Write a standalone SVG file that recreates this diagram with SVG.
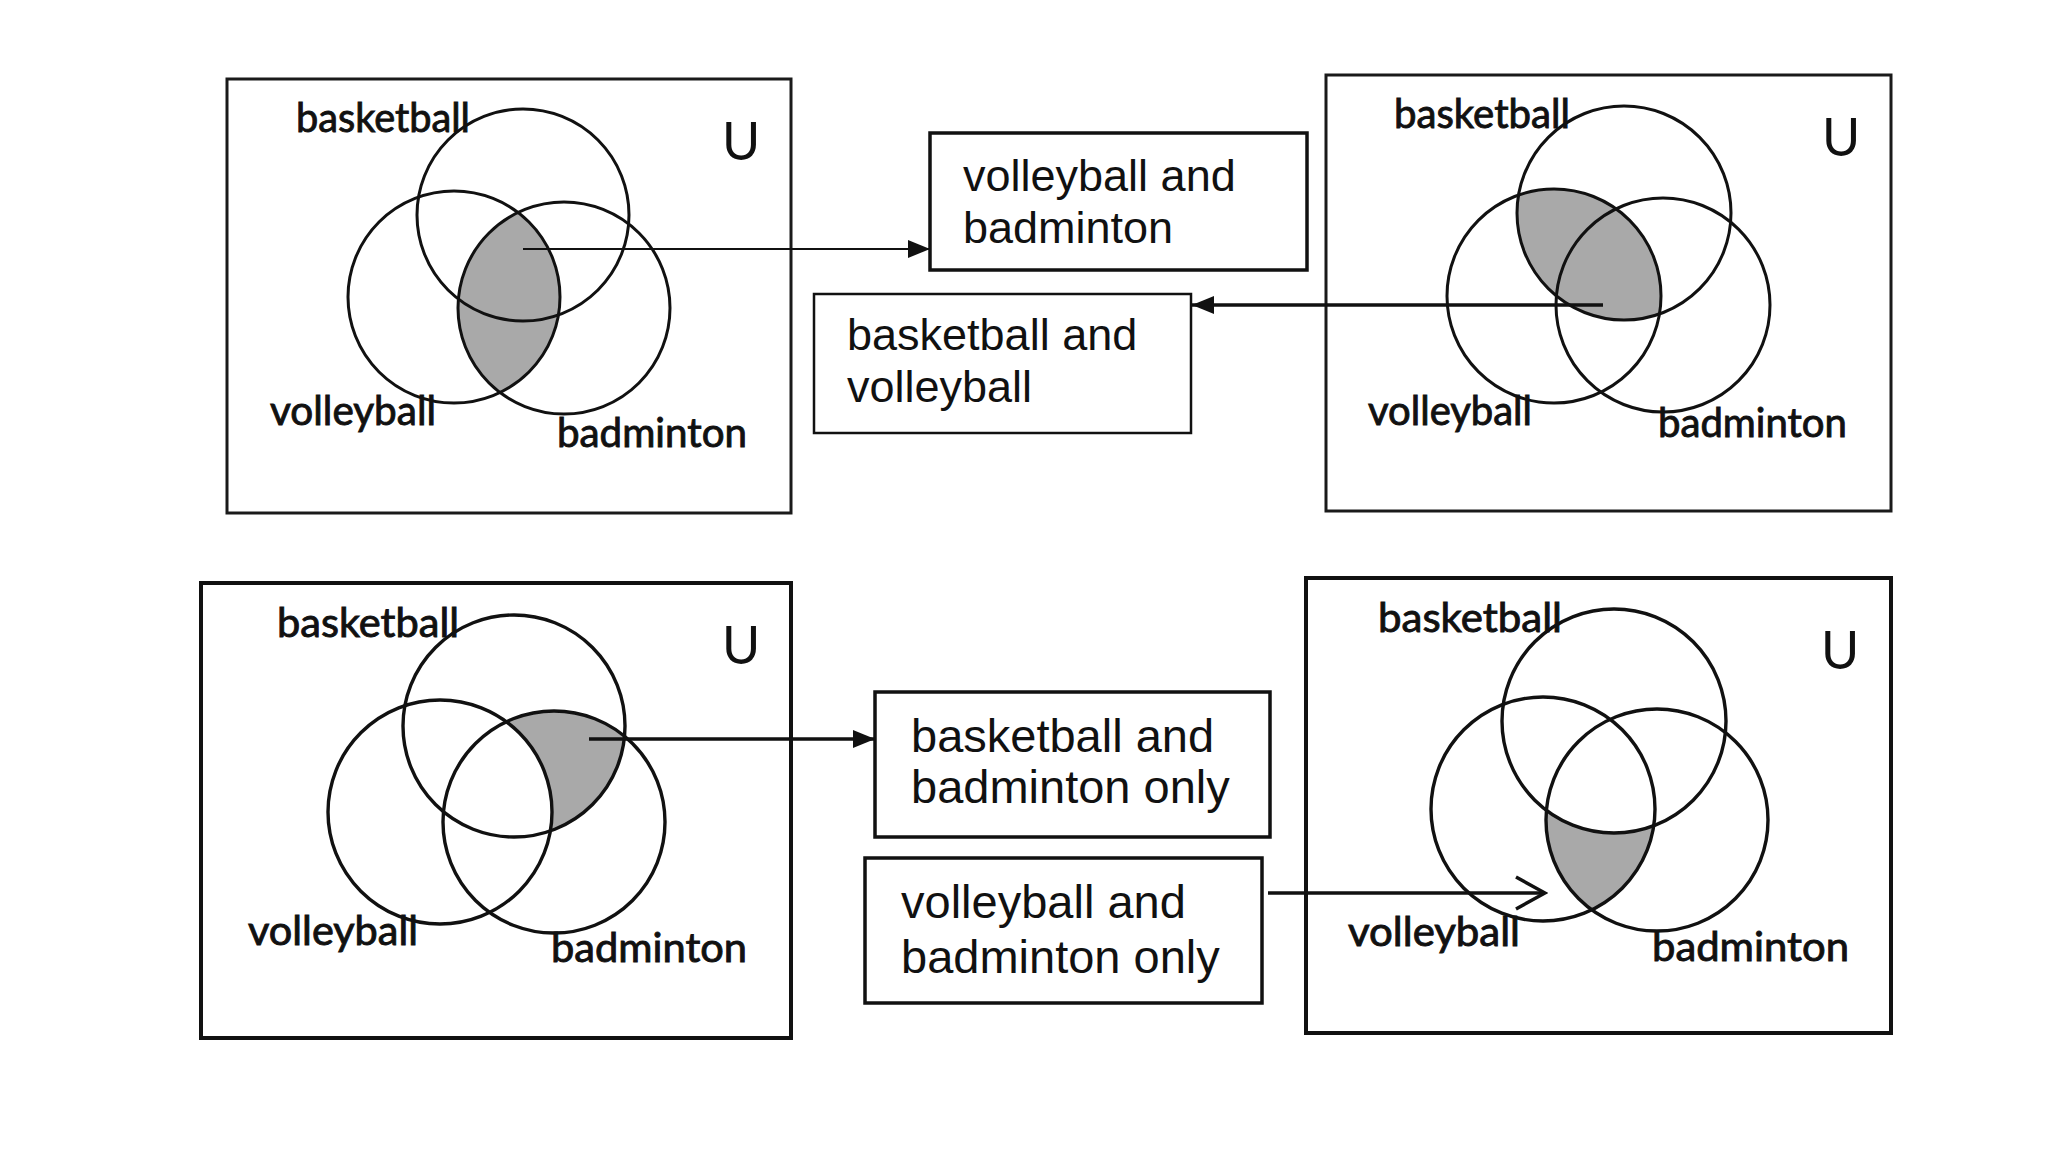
<svg xmlns="http://www.w3.org/2000/svg" width="2048" height="1152" viewBox="0 0 2048 1152">
<style>
.frame{fill:#fff;stroke:#1a1a1a;stroke-width:3}
.frame2{fill:#fff;stroke:#111;stroke-width:4}
.c{fill:none;stroke:#111;stroke-width:3}
.c2{fill:none;stroke:#111;stroke-width:3.4}
.shade{fill:#a9a9a9}
.lbl{font-family:Lato,"Liberation Sans",sans-serif;font-size:40px;fill:#111;stroke:#111;stroke-width:0.9}
.u{font-family:Lato,"Liberation Sans",sans-serif;font-size:52px;fill:#111}
.tb{fill:#fff;stroke:#111;stroke-width:3.5}
.tb2{fill:#fff;stroke:#111;stroke-width:2.5}
.tt{font-family:"Liberation Sans",Arial,sans-serif;font-size:45px;fill:#111}
.tt2{font-family:"Liberation Sans",Arial,sans-serif;font-size:47px;fill:#111}
.ln{fill:none;stroke:#111;stroke-width:2.2}
.ln2{fill:none;stroke:#111;stroke-width:3.5}
</style>
<defs>
<marker id="tri" markerUnits="userSpaceOnUse" markerWidth="22" markerHeight="18" viewBox="0 0 22 18" refX="22" refY="9" orient="auto">
<path d="M0,0 L22,9 L0,18 z" fill="#111"/>
</marker>
<marker id="chev" markerUnits="userSpaceOnUse" markerWidth="36" markerHeight="40" viewBox="-4 -20 36 40" refX="29" refY="0" orient="auto">
<path d="M0,-16 L29,0 L0,16" fill="none" stroke="#111" stroke-width="3.5"/>
</marker>
<clipPath id="cV1"><circle cx="454" cy="297" r="106"/></clipPath>
<clipPath id="cV2"><circle cx="1554" cy="296" r="107"/></clipPath>
<clipPath id="cB3"><circle cx="514" cy="726" r="111"/></clipPath>
<mask id="mV3" maskUnits="userSpaceOnUse" x="0" y="0" width="2048" height="1152">
<rect x="0" y="0" width="2048" height="1152" fill="#fff"/>
<circle cx="440" cy="812" r="112" fill="#000"/>
</mask>
<clipPath id="cV4"><circle cx="1543" cy="809" r="112"/></clipPath>
<mask id="mB4" maskUnits="userSpaceOnUse" x="0" y="0" width="2048" height="1152">
<rect x="0" y="0" width="2048" height="1152" fill="#fff"/>
<circle cx="1614" cy="721" r="112" fill="#000"/>
</mask>
</defs>
<rect width="2048" height="1152" fill="#fff"/>

<g id="panel1">
<rect class="frame" x="227" y="79" width="564" height="434"/>
<circle class="shade" cx="564" cy="308" r="106" clip-path="url(#cV1)"/>
<circle class="c" cx="523" cy="215" r="106"/>
<circle class="c" cx="454" cy="297" r="106"/>
<circle class="c" cx="564" cy="308" r="106"/>
<text class="lbl" x="296" y="132" textLength="174" lengthAdjust="spacingAndGlyphs">basketball</text>
<text class="lbl" x="270" y="425" textLength="166" lengthAdjust="spacingAndGlyphs">volleyball</text>
<text class="lbl" x="557" y="447" textLength="190" lengthAdjust="spacingAndGlyphs">badminton</text>
<text class="u" x="722" y="160">U</text>
</g>

<g id="panel2">
<rect class="frame" x="1326" y="75" width="565" height="436"/>
<circle class="shade" cx="1624" cy="213" r="107" clip-path="url(#cV2)"/>
<circle class="c" cx="1624" cy="213" r="107"/>
<circle class="c" cx="1554" cy="296" r="107"/>
<circle class="c" cx="1663" cy="305" r="107"/>
<text class="lbl" x="1394" y="128" textLength="176" lengthAdjust="spacingAndGlyphs">basketball</text>
<text class="lbl" x="1368" y="425" textLength="164" lengthAdjust="spacingAndGlyphs">volleyball</text>
<text class="lbl" x="1658" y="437" textLength="189" lengthAdjust="spacingAndGlyphs">badminton</text>
<text class="u" x="1822" y="156">U</text>
</g>

<g id="panel3">
<rect class="frame2" x="201" y="583" width="590" height="455"/>
<g mask="url(#mV3)"><circle class="shade" cx="554" cy="822" r="111" clip-path="url(#cB3)"/></g>
<circle class="c2" cx="514" cy="726" r="111"/>
<circle class="c2" cx="440" cy="812" r="112"/>
<circle class="c2" cx="554" cy="822" r="111"/>
<text class="lbl" x="277" y="637" textLength="182" lengthAdjust="spacingAndGlyphs">basketball</text>
<text class="lbl" x="248" y="945" textLength="170" lengthAdjust="spacingAndGlyphs">volleyball</text>
<text class="lbl" x="551" y="962" textLength="196" lengthAdjust="spacingAndGlyphs">badminton</text>
<text class="u" x="722" y="664">U</text>
</g>

<g id="panel4">
<rect class="frame2" x="1306" y="578" width="585" height="455"/>
<g mask="url(#mB4)"><circle class="shade" cx="1657" cy="820" r="111" clip-path="url(#cV4)"/></g>
<circle class="c2" cx="1614" cy="721" r="112"/>
<circle class="c2" cx="1543" cy="809" r="112"/>
<circle class="c2" cx="1657" cy="820" r="111"/>
<text class="lbl" x="1378" y="632" textLength="184" lengthAdjust="spacingAndGlyphs">basketball</text>
<text class="lbl" x="1348" y="946" textLength="172" lengthAdjust="spacingAndGlyphs">volleyball</text>
<text class="lbl" x="1652" y="961" textLength="197" lengthAdjust="spacingAndGlyphs">badminton</text>
<text class="u" x="1821" y="669">U</text>
</g>

<g id="connectors">
<line class="ln" x1="523" y1="249" x2="930" y2="249" marker-end="url(#tri)"/>
<line class="ln2" x1="1603" y1="305" x2="1192" y2="305" marker-end="url(#tri)"/>
<line class="ln2" x1="589" y1="739" x2="875" y2="739" marker-end="url(#tri)"/>
<line class="ln2" x1="1268" y1="893" x2="1545" y2="893" marker-end="url(#chev)"/>
</g>

<g id="box1">
<rect class="tb" x="930" y="133" width="377" height="137"/>
<text class="tt" x="963" y="191">volleyball and</text>
<text class="tt" x="963" y="243">badminton</text>
</g>
<g id="box2">
<rect class="tb2" x="814" y="294" width="377" height="139"/>
<text class="tt" x="847" y="350">basketball and</text>
<text class="tt" x="847" y="402">volleyball</text>
</g>
<g id="box3">
<rect class="tb" x="875" y="692" width="395" height="145"/>
<text class="tt2" x="911" y="752">basketball and</text>
<text class="tt2" x="911" y="803">badminton only</text>
</g>
<g id="box4">
<rect class="tb" x="865" y="858" width="397" height="145"/>
<text class="tt2" x="901" y="918">volleyball and</text>
<text class="tt2" x="901" y="973">badminton only</text>
</g>
</svg>
